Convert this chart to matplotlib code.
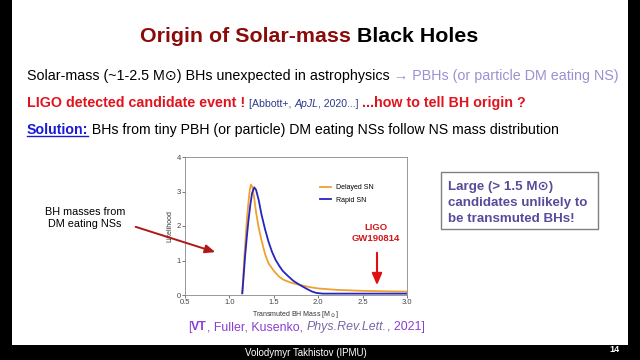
import matplotlib
matplotlib.use("Agg")
import matplotlib.pyplot as plt
from matplotlib.patches import Rectangle

plt.rcParams["font.family"] = ["Liberation Sans", "DejaVu Sans"]

W, H = 640, 360

# curves
rapid_mass = [1.145, 1.16, 1.176, 1.195, 1.213, 1.235, 1.255, 1.28, 1.30, 1.33, 1.36,
              1.40, 1.44, 1.48, 1.52, 1.56, 1.60, 1.66, 1.72, 1.80, 1.87, 1.93, 1.98,
              2.05, 2.40, 3.00]
rapid_like = [0.05, 0.55, 1.1, 1.65, 2.12, 2.6, 2.95, 3.12, 3.05, 2.75, 2.35,
              1.92, 1.55, 1.25, 1.02, 0.85, 0.7, 0.55, 0.41, 0.28, 0.18, 0.1, 0.06,
              0.04, 0.04, 0.04]
delayed_mass = [1.145, 1.16, 1.17, 1.195, 1.215, 1.23, 1.243, 1.26, 1.28, 1.30, 1.33,
                1.36, 1.40, 1.44, 1.50, 1.56, 1.61, 1.70, 1.80, 1.90, 2.00, 2.20, 2.50,
                2.80, 3.00]
delayed_like = [0.05, 0.7, 1.16, 2.12, 2.7, 3.05, 3.2, 3.12, 2.8, 2.4, 1.95,
                1.6, 1.2, 0.92, 0.7, 0.53, 0.44, 0.35, 0.29, 0.23, 0.19, 0.15, 0.12,
                0.105, 0.1]
x_ticks = [0.5, 1.0, 1.5, 2.0, 2.5, 3.0]
y_ticks = [0, 1, 2, 3, 4]


def fx(x):
    return x / W


def fy(y):
    return 1 - y / H


def draw_runs(fig, x, y, runs):
    renderer = fig.canvas.get_renderer()
    pos = x
    drawn = []
    for text, props in runs:
        t = fig.text(fx(pos), fy(y), text, va="baseline", ha="left", **props)
        bb = t.get_window_extent(renderer)
        drawn.append((t, pos, bb))
        pos += bb.width
    return drawn


fig = plt.figure(figsize=(6.4, 3.6), dpi=100, facecolor="black")
fig.patches.append(Rectangle((fx(12), fy(345)), (628 - 12) / W, 345 / H,
                             transform=fig.transFigure, facecolor="white",
                             edgecolor="none", zorder=-5))

dark_red = "#8b0a0a"
red = "#e0141e"
lilac = "#9b90d2"
purple = "#8a3fd1"

draw_runs(fig, 140, 42, [
    ("Origin of Solar-mass ", dict(color=dark_red, fontsize=15.4, fontweight="bold")),
    ("Black Holes", dict(color="black", fontsize=15.4, fontweight="bold")),
])

draw_runs(fig, 27, 80, [
    ("Solar-mass (~1-2.5 M\u2299) BHs unexpected in astrophysics ",
     dict(color="black", fontsize=10.25)),
    ("\u2192 PBHs (or particle DM eating NS)", dict(color=lilac, fontsize=10.25)),
])

draw_runs(fig, 27, 107, [
    ("LIGO detected candidate event ! ", dict(color=red, fontsize=10.3, fontweight="bold")),
    ("[Abbott+, ", dict(color="#2a3c8c", fontsize=7.6)),
    ("ApJL", dict(color="#2a3c8c", fontsize=7.6, style="italic")),
    (", 2020...] ", dict(color="#2a3c8c", fontsize=7.6)),
    ("...how to tell BH origin ?", dict(color=red, fontsize=10.3, fontweight="bold")),
])

sol = draw_runs(fig, 27, 134, [
    ("Solution:", dict(color="#1a1ad6", fontsize=10.2, fontweight="bold")),
    (" BHs from tiny PBH (or particle) DM eating NSs follow NS mass distribution",
     dict(color="black", fontsize=10.2)),
])
_, sx, sbb = sol[0]
fig.add_artist(plt.Line2D([fx(sx), fx(sx + sbb.width)], [fy(136), fy(136)],
                          color="#1a1ad6", lw=1))

# embedded likelihood plot
ax = fig.add_axes([fx(185), fy(295), (407 - 185) / W, (295 - 157) / H])
ax.set_facecolor("white")
ax.plot(delayed_mass, delayed_like, color="#f0a030", lw=1.3, label="Delayed SN")
ax.plot(rapid_mass, rapid_like, color="#2525c0", lw=1.3, label="Rapid SN")
ax.set_xlim(0.5, 3.0)
ax.set_ylim(0, 4)
ax.set_xticks(x_ticks)
ax.set_yticks(y_ticks)
ax.set_xticklabels([f"{v:.1f}" for v in x_ticks])
ax.tick_params(labelsize=5.5, colors="#444444", length=2, width=0.5, pad=1)
for s in ax.spines.values():
    s.set_color("#888888")
    s.set_linewidth(0.6)
ax.set_xlabel("Transmuted BH Mass [M$_\\odot$]", fontsize=5, color="#333333", labelpad=2)
ax.set_ylabel("Likelihood", fontsize=5, color="#333333", labelpad=2)
ax.legend(loc="upper right", bbox_to_anchor=(0.88, 0.85), fontsize=5, frameon=False,
          handlelength=1.5, labelspacing=0.8)

# annotations
fig.text(fx(85), fy(218), "BH masses from\nDM eating NSs", ha="center", va="center",
         fontsize=7.8, color="black", linespacing=1.2)
ax.annotate("", xy=(fx(218), fy(253)), xycoords="figure fraction",
            xytext=(fx(133), fy(226)), textcoords="figure fraction",
            arrowprops=dict(arrowstyle="-|>,head_length=0.6,head_width=0.25",
                            color="#b01818", lw=1.4), annotation_clip=False)
fig.text(fx(376), fy(233), "LIGO\nGW190814", ha="center", va="center",
         fontsize=6.8, color="#d01818", fontweight="bold", linespacing=1.3)
ax.annotate("", xy=(fx(377), fy(288)), xycoords="figure fraction",
            xytext=(fx(377), fy(250)), textcoords="figure fraction",
            arrowprops=dict(arrowstyle="-|>,head_length=0.7,head_width=0.3",
                            color="#e01010", lw=1.5), annotation_clip=False)

fig.patches.append(Rectangle((fx(441), fy(229)), (598 - 441) / W, (229 - 172) / H,
                             transform=fig.transFigure, facecolor="white",
                             edgecolor="#808080", lw=1, zorder=1))
fig.text(fx(448), fy(203), "Large (> 1.5 M\u2299)\ncandidates unlikely to\nbe transmuted BHs!",
         ha="left", va="center", fontsize=9.6, color="#5a4a9c", fontweight="bold",
         linespacing=1.45, zorder=2)

draw_runs(fig, 188, 330, [
    ("[", dict(color=purple, fontsize=8.9)),
    ("VT", dict(color=purple, fontsize=8.9, fontweight="bold")),
    (", Fuller, Kusenko, ", dict(color=purple, fontsize=8.9)),
    ("Phys.Rev.Lett.", dict(color="#7a66a8", fontsize=8.9, style="italic")),
    (", 2021]", dict(color=purple, fontsize=8.9)),
])

fig.text(fx(306), fy(353), "Volodymyr Takhistov (IPMU)", ha="center", va="center",
         fontsize=7, color="white")
fig.text(fx(614), fy(350), "14", ha="center", va="center", fontsize=6.5,
         color="white", fontweight="bold")

fig.savefig("out.png", dpi=100, facecolor="black")
